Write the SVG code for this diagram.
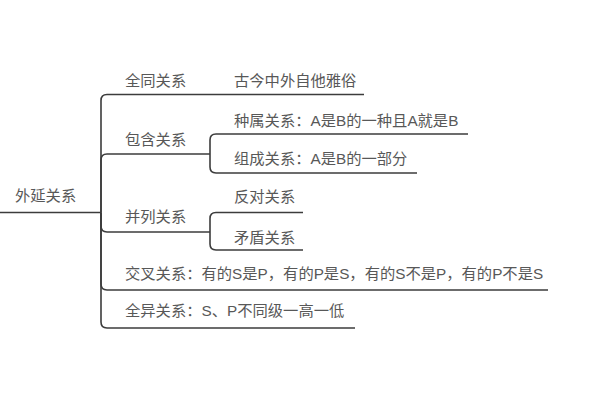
<svg xmlns="http://www.w3.org/2000/svg" width="600" height="400" viewBox="0 0 600 400">
<style>
.t{font-family:"Liberation Sans","Noto Sans CJK SC",sans-serif;font-size:15.3px;fill:#585858}
.c{fill:none;stroke:#3c3c3c;stroke-width:1.6}
</style>
<rect width="600" height="400" fill="#fff"/>
<g id="connectors">
<path class="c" d="M0,212.5 H101"/>
<path class="c" d="M101,212.5 V100.5 Q101,94.5 107,94.5 H364"/>
<path class="c" d="M101,212.5 V160 Q101,154 107,154 H210"/>
<path class="c" d="M101,212.5 V226 Q101,232 107,232 H210"/>
<path class="c" d="M101,212.5 V284 Q101,290 107,290 H548"/>
<path class="c" d="M101,212.5 V322 Q101,328 107,328 H355"/>
<path class="c" d="M210,154 V140 Q210,134 216,134 H468"/>
<path class="c" d="M210,154 V167 Q210,173 216,173 H417"/>
<path class="c" d="M210,232 V218.5 Q210,212.5 216,212.5 H303"/>
<path class="c" d="M210,232 V244 Q210,250 216,250 H303"/>
</g>
<g id="root"><text class="t" x="15" y="200.5">外延关系</text></g>
<g id="n1"><text class="t" x="125" y="86">全同关系</text></g>
<g id="n1a"><text class="t" x="234" y="86">古今中外自他雅俗</text></g>
<g id="n2"><text class="t" x="125" y="144.5">包含关系</text></g>
<g id="n2a"><text class="t" x="234" y="125.5">种属关系：A是B的一种且A就是B</text></g>
<g id="n2b"><text class="t" x="234" y="164">组成关系：A是B的一部分</text></g>
<g id="n3"><text class="t" x="125" y="222">并列关系</text></g>
<g id="n3a"><text class="t" x="234" y="202">反对关系</text></g>
<g id="n3b"><text class="t" x="234" y="242.5">矛盾关系</text></g>
<g id="n4"><text class="t" x="125" y="278.5">交叉关系：有的S是P，有的P是S，有的S不是P，有的P不是S</text></g>
<g id="n5"><text class="t" x="125" y="315.5">全异关系：S、P不同级一高一低</text></g>
</svg>
